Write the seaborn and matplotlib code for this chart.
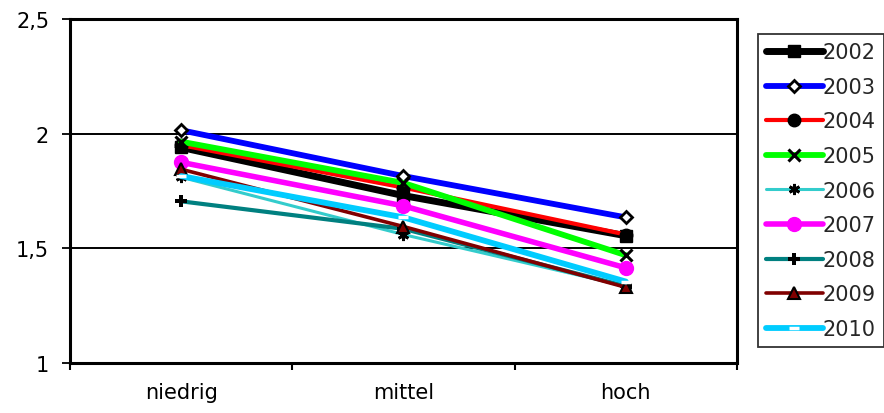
import matplotlib
matplotlib.use("Agg")
import matplotlib.pyplot as plt
import seaborn as sns
import pandas as pd

categories = ["niedrig", "mittel", "hoch"]
years = ["2002", "2003", "2004", "2005", "2006", "2007", "2008", "2009", "2010"]

v2002 = [1.94, 1.73, 1.555]
v2003 = [2.015, 1.815, 1.635]
v2004 = [1.95, 1.765, 1.56]
v2005 = [1.965, 1.785, 1.47]
v2006 = [1.81, 1.56, 1.335]
v2007 = [1.875, 1.685, 1.415]
v2008 = [1.705, 1.585, 1.335]
v2009 = [1.845, 1.595, 1.33]
v2010 = [1.815, 1.635, 1.355]
values = [v2002, v2003, v2004, v2005, v2006, v2007, v2008, v2009, v2010]

y_ticks = [1, 1.5, 2, 2.5]
y_tick_labels = ["1", "1,5", "2", "2,5"]

colors = ["#000000", "#0000FF", "#FF0000", "#00FF00", "#33CCCC",
          "#FF00FF", "#008080", "#800000", "#00CCFF"]
widths = [5.0, 4.2, 3.0, 4.2, 2.2, 4.0, 3.0, 2.6, 4.2]
markers = ["s", "D", "o", "x", (6, 2, 0), "o", "P", "^", "_"]
msizes = [9, 6.5, 9, 8, 8, 10, 9, 8, 7]
mfaces = ["#000000", "#FFFFFF", "#000000", "#000000", "#000000",
          "#FF00FF", "#000000", "#800000", "#FFFFFF"]
medges = ["#000000", "#000000", "#000000", "#000000", "#000000",
          "#FF00FF", "#000000", "#000000", "#FFFFFF"]
mews = [1, 2, 1, 2.2, 2, 1, 0, 1.5, 2.5]

sns.set_theme(style="white")
plt.rcParams["font.family"] = ["DejaVu Sans"]

fig = plt.figure(figsize=(8.84, 4.14), dpi=100)
ax = fig.add_axes([70 / 884, 1 - 364 / 414, (737 - 70) / 884, (364 - 20) / 414])

for i, year in enumerate(years):
    df = pd.DataFrame({"Stufe": categories, "Wert": values[i]})
    sns.lineplot(data=df, x="Stufe", y="Wert", ax=ax, color=colors[i],
                 linewidth=widths[i], marker=markers[i], markersize=msizes[i],
                 markerfacecolor=mfaces[i], markeredgecolor=medges[i],
                 markeredgewidth=mews[i], label=year, sort=False,
                 zorder=3 + i)

ax.set_xlim(-0.5, 2.5)
ax.set_ylim(1, 2.5)
ax.set_xlabel("")
ax.set_ylabel("")

ax.set_yticks(y_ticks)
ax.set_yticklabels(y_tick_labels, fontsize=15)
ax.set_xticks([0, 1, 2])
ax.set_xticklabels(categories, fontsize=15)
ax.set_xticks([-0.5, 0.5, 1.5, 2.5], minor=True)
ax.tick_params(axis="x", which="major", length=0, pad=14, colors="black")
ax.tick_params(axis="x", which="minor", length=5, width=1.5, direction="out",
               color="black", bottom=True)
ax.tick_params(axis="y", length=6, width=1.3, direction="out", pad=9,
               colors="black", left=True)

ax.yaxis.grid(True, color="black", linewidth=1.4)
ax.set_axisbelow(True)
for sp in ax.spines.values():
    sp.set_visible(True)
    sp.set_color("black")
    sp.set_linewidth(2.2)

handles, labels = ax.get_legend_handles_labels()
if ax.get_legend():
    ax.get_legend().remove()
leg = fig.legend(handles, labels, loc="upper left",
                 bbox_to_anchor=(758 / 884, 1 - 35 / 414),
                 frameon=True, fancybox=False, fontsize=15,
                 handlelength=2.7, handletextpad=0.0, labelspacing=0.7,
                 borderpad=0.4, borderaxespad=0.0)
leg.get_frame().set_edgecolor("black")
leg.get_frame().set_linewidth(1.3)

fig.savefig("out.png", dpi=100)
